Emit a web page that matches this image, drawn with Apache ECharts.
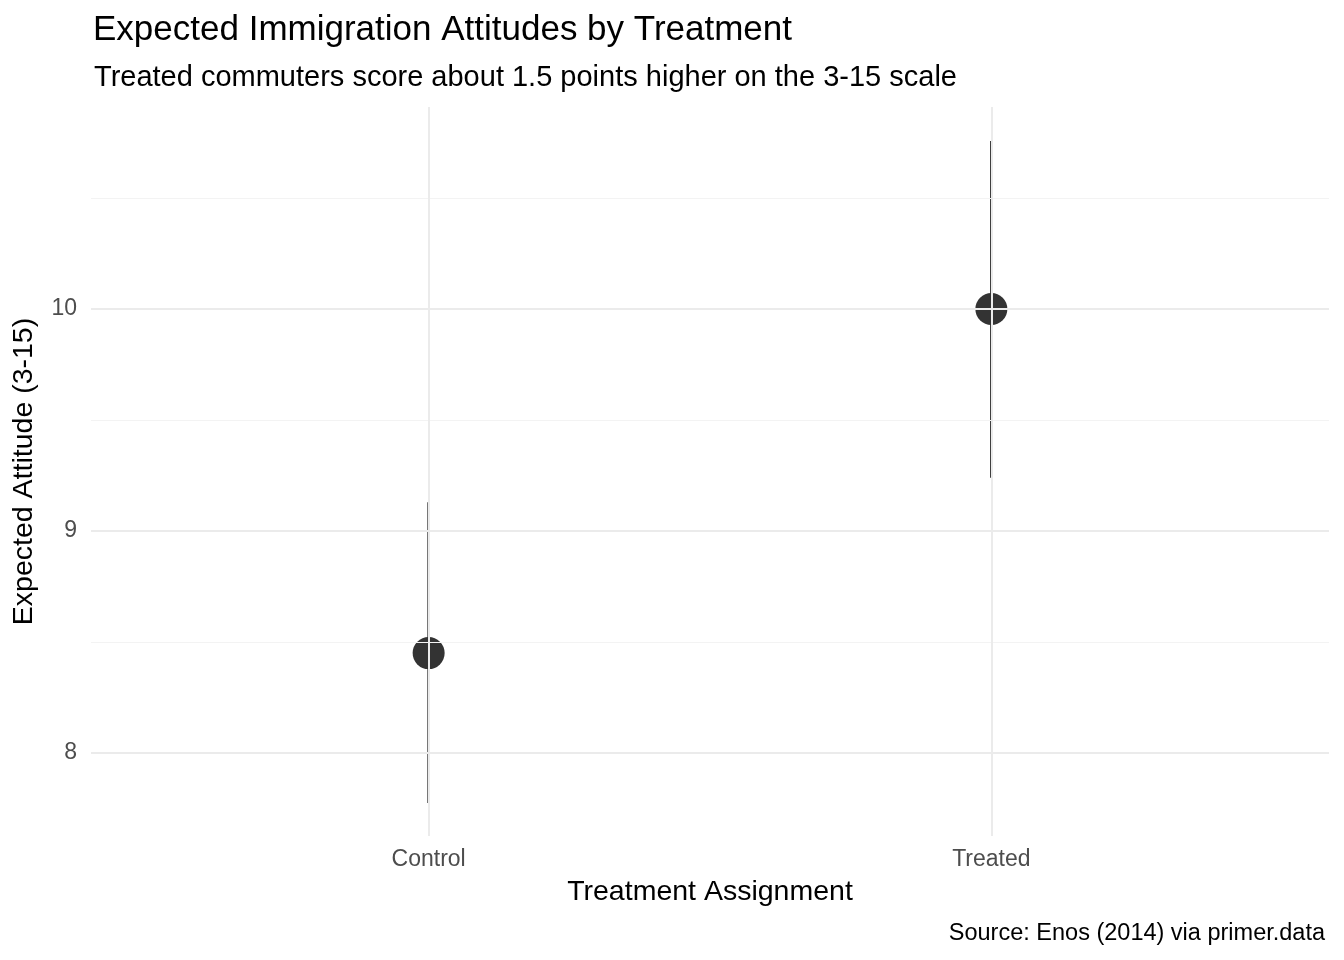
<!DOCTYPE html>
<html>
<head>
<meta charset="utf-8">
<script src="https://cdn.jsdelivr.net/npm/echarts@6/dist/echarts.min.js"></script>
<style>html,body{margin:0;padding:0;background:#fff}#c{width:1344px;height:960px}</style>
</head>
<body>
<div id="c"></div>
<script>
// data
const categories = ['Control', 'Treated'];
const means = [8.45, 10.0];
const lower = [7.775, 9.24];
const upper = [9.13, 10.757];
const yTicks = [8, 9, 10];
const yMinor = [8.5, 9.5, 10.5];

const font = 'Liberation Sans, Arial, sans-serif';
const chart = echarts.init(document.getElementById('c'));

const xPos = categories.map((c, i) => i + 1);
const gridLines = [];
yTicks.forEach(v => gridLines.push({ yAxis: v, lineStyle: { color: '#ebebeb', width: 2, type: 'solid' } }));
yMinor.forEach(v => gridLines.push({ yAxis: v, lineStyle: { color: '#f3f3f3', width: 1.2, type: 'solid' } }));
xPos.forEach(v => gridLines.push({ xAxis: v, lineStyle: { color: '#ebebeb', width: 2, type: 'solid' } }));

chart.setOption({
  animation: false,
  title: [
    { text: 'Expected Immigration Attitudes by Treatment', left: 88, top: 8,
      textStyle: { fontFamily: font, fontSize: 35, fontWeight: 'normal', color: '#000' } },
    { text: 'Treated commuters score about 1.5 points higher on the 3-15 scale', left: 89, top: 58,
      textStyle: { fontFamily: font, fontSize: 29, fontWeight: 'normal', color: '#000' } },
    { text: 'Source: Enos (2014) via primer.data', right: 14, top: 917,
      textStyle: { fontFamily: font, fontSize: 23.5, fontWeight: 'normal', color: '#000' } }
  ],
  grid: { left: 91, right: 15, top: 107, bottom: 124 },
  xAxis: {
    type: 'value', min: 0.4, max: 2.6,
    name: 'Treatment Assignment', nameLocation: 'middle', nameGap: 42,
    nameTextStyle: { fontFamily: font, fontSize: 28.5, color: '#000' },
    axisLine: { show: false }, axisTick: { show: false }, splitLine: { show: false },
    axisLabel: { customValues: xPos, formatter: v => categories[Math.round(v) - 1] || '',
      fontFamily: font, fontSize: 23, color: '#4d4d4d', margin: 12 }
  },
  yAxis: {
    type: 'value', min: 7.626, max: 10.91,
    name: 'Expected Attitude (3-15)', nameLocation: 'middle', nameGap: 52,
    nameTextStyle: { fontFamily: font, fontSize: 28.5, color: '#000' },
    axisLine: { show: false }, axisTick: { show: false }, splitLine: { show: false },
    axisLabel: { customValues: yTicks, fontFamily: font, fontSize: 23, color: '#4d4d4d', margin: 14 }
  },
  series: [
    {
      type: 'line', data: [], silent: true, z: 0,
      markLine: { symbol: 'none', silent: true, label: { show: false }, data: gridLines, animation: false }
    },
    {
      type: 'custom',
      data: xPos.map((x, i) => [x, lower[i], upper[i]]),
      renderItem: (params, api) => {
        const a = api.coord([api.value(0), api.value(1)]);
        const b = api.coord([api.value(0), api.value(2)]);
        return { type: 'line', shape: { x1: a[0], y1: a[1], x2: b[0], y2: b[1] },
          style: { stroke: '#333333', lineWidth: 2.6 } };
      },
      z: 3
    },
    {
      type: 'scatter',
      data: xPos.map((x, i) => [x, means[i]]),
      symbolSize: 32,
      itemStyle: { color: '#333333', opacity: 1 },
      z: 4
    }
  ]
});
</script>
</body>
</html>
